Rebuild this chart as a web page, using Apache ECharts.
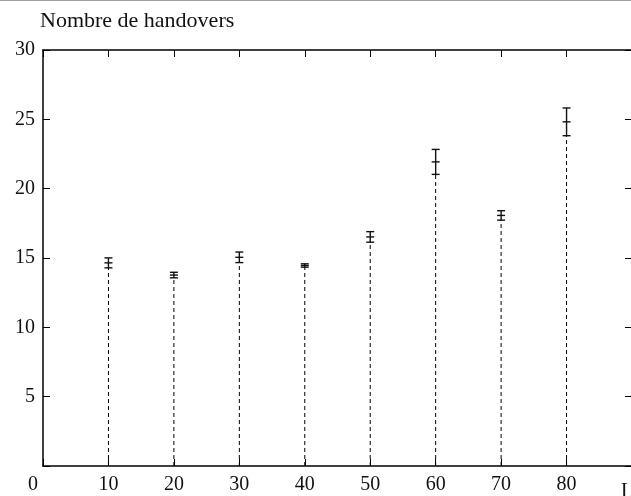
<!DOCTYPE html>
<html>
<head>
<meta charset="utf-8">
<script src="https://cdn.jsdelivr.net/npm/echarts@6/dist/echarts.min.js"></script>
<style>html,body{margin:0;padding:0;background:#fff;}#c{width:631px;height:496px;}</style>
</head>
<body>
<div id="c"></div>
<script>
const lValues = [10, 20, 30, 40, 50, 60, 70, 80];
const handoverMeans = [14.65, 13.77, 15.05, 14.46, 16.52, 21.93, 18.07, 24.82];
const handoverErrors = [0.36, 0.2, 0.38, 0.12, 0.38, 0.9, 0.34, 1.0];
const yTitle = 'Nombre de handovers';
const xTitle = 'L';

const FONT = 'Liberation Serif';
const data = lValues.map((x, i) => [x, handoverMeans[i], handoverErrors[i]]);

const frameLine = {show: true, onZero: false, lineStyle: {color: '#000', width: 1.5}};
const innerTick = {show: true, inside: true, length: 7, lineStyle: {color: '#000'}};

const chart = echarts.init(document.getElementById('c'), null, {renderer: 'canvas'});
chart.setOption({
  animation: false,
  backgroundColor: '#fff',
  textStyle: {fontFamily: FONT},
  grid: {left: 43, top: 50, width: 589, height: 416, containLabel: false, outerBoundsMode: 'none'},
  graphic: [
    {type: 'rect', left: 0, top: 0, shape: {width: 631, height: 1}, style: {fill: '#a0a0a0'}},
    {type: 'text', left: 40, top: 10, style: {text: yTitle, font: '22px "Liberation Serif"', fill: '#111'}},
    {type: 'text', left: 621, top: 482, style: {text: xTitle, font: '20px "Liberation Serif"', fill: '#111'}}
  ],
  xAxis: [
    {
      type: 'value', min: 0, max: 90, interval: 10, position: 'bottom',
      axisLine: frameLine, axisTick: innerTick,
      splitLine: {show: false},
      axisLabel: {
        margin: 9, color: '#111', fontFamily: FONT, fontSize: 20,
        formatter: v => v === 0 ? '{z|0}' : (v >= 90 ? '' : String(v)),
        rich: {z: {fontFamily: FONT, fontSize: 20, color: '#111', padding: [0, 20, 0, 0]}}
      }
    },
    {
      type: 'value', min: 0, max: 90, interval: 10, position: 'top',
      axisLine: frameLine, axisTick: innerTick,
      splitLine: {show: false},
      axisLabel: {show: false}
    }
  ],
  yAxis: [
    {
      type: 'value', min: 0, max: 30, interval: 5, position: 'left',
      axisLine: frameLine, axisTick: innerTick,
      splitLine: {show: false},
      axisLabel: {
        margin: 8, color: '#111', fontFamily: FONT, fontSize: 20,
        formatter: v => v === 0 ? '' : String(v)
      }
    },
    {
      type: 'value', min: 0, max: 30, interval: 5, position: 'right',
      axisLine: frameLine, axisTick: innerTick,
      splitLine: {show: false},
      axisLabel: {show: false}
    }
  ],
  series: [{
    type: 'custom',
    xAxisIndex: 0, yAxisIndex: 0,
    data: data,
    renderItem: function (params, api) {
      const x = api.value(0), y = api.value(1), e = api.value(2);
      const p0 = api.coord([x, 0]);
      const pm = api.coord([x, y]);
      const pt = api.coord([x, y + e]);
      const pb = api.coord([x, y - e]);
      const hw = 4;
      const solid = {stroke: '#111', lineWidth: 1.4};
      const cap = (p) => ({type: 'line', shape: {x1: p[0] - hw, y1: p[1], x2: p[0] + hw, y2: p[1]}, style: solid});
      return {
        type: 'group',
        children: [
          {type: 'line', shape: {x1: p0[0], y1: p0[1], x2: pb[0], y2: pb[1]},
            style: {stroke: '#000', lineWidth: 1, lineDash: [4, 3]}},
          {type: 'line', shape: {x1: pb[0], y1: pb[1], x2: pt[0], y2: pt[1]}, style: solid},
          cap(pt), cap(pb), cap(pm)
        ]
      };
    }
  }]
});
</script>
</body>
</html>
